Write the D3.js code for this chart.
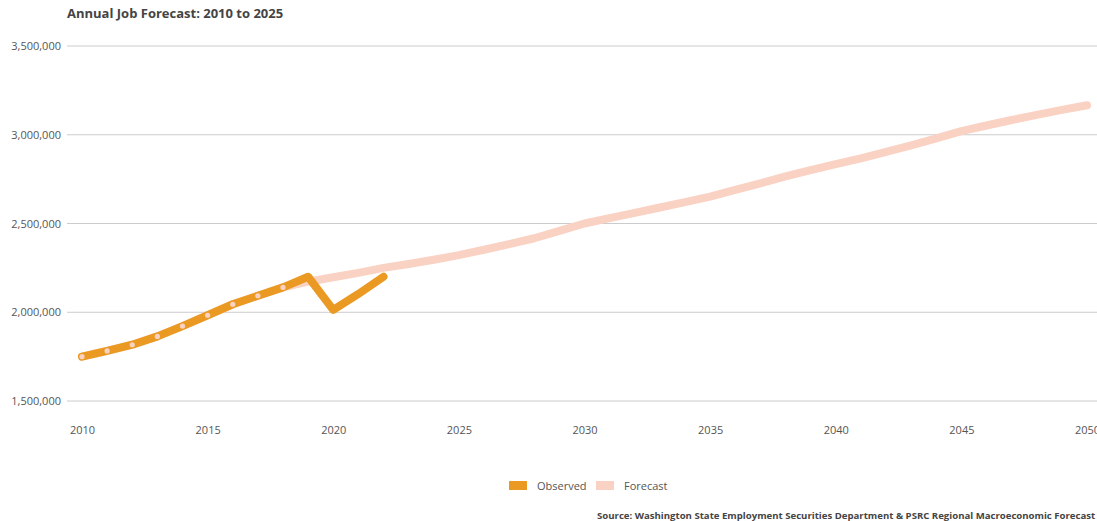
<!DOCTYPE html>
<html><head><meta charset="utf-8">
<script src="https://cdn.jsdelivr.net/npm/d3@7"></script>
<style>
html,body{margin:0;padding:0;background:#fff;overflow:hidden}
svg{display:block}
text{font-family:"Open Sans",sans-serif}
</style></head>
<body><svg id="chart" width="1097" height="521"></svg>
<script>
const title = "Annual Job Forecast: 2010 to 2025";
const source = "Source: Washington State Employment Securities Department & PSRC Regional Macroeconomic Forecast";
const observedYears = [2010,2011,2012,2013,2014,2015,2016,2017,2018,2019,2020,2021,2022];
const observedJobs = [1750000,1782000,1817000,1864000,1922000,1983000,2045000,2093000,2140000,2200000,2013000,2103000,2200000];
const forecastYears = [2010,2011,2012,2013,2014,2015,2016,2017,2018,2019,2020,2021,2022,2023,2024,2025,2026,2027,2028,2029,2030,2031,2032,2033,2034,2035,2036,2037,2038,2039,2040,2041,2042,2043,2044,2045,2046,2047,2048,2049,2050];
const forecastJobs = [1750000,1782000,1817000,1864000,1922000,1983000,2045000,2093000,2140000,2172000,2197000,2222000,2250000,2272000,2296000,2322000,2352000,2384000,2417000,2458000,2500000,2530000,2560000,2590000,2620000,2651000,2690000,2726000,2765000,2801000,2835000,2867000,2904000,2940000,2979000,3020000,3052000,3083000,3112000,3140000,3166000];
const markerYears = [2010,2011,2012,2013,2014,2015,2016,2017,2018];
const yTicks = [1500000,2000000,2500000,3000000,3500000];
const xTicks = [2010,2015,2020,2025,2030,2035,2040,2045,2050];
const seriesNames = ["Observed","Forecast"];
const colors = {Observed:"#EA9A22", Forecast:"#FAD2C3"};

const svg = d3.select("#chart");
const x = d3.scaleLinear().domain([2010,2050]).range([82,1087]);
const y = d3.scaleLinear().domain([1500000,3500000]).range([401,46]);

// gridlines
svg.append("g").selectAll("line").data(yTicks).join("line")
  .attr("x1",67).attr("x2",1097)
  .attr("y1",d=>y(d)).attr("y2",d=>y(d))
  .attr("stroke","#cccccc").attr("stroke-width",1);

// y axis labels
const yAxis = d3.axisLeft(y).tickValues(yTicks).tickSize(0).tickPadding(0).tickFormat(d3.format(","));
const yg = svg.append("g").attr("transform","translate(61,0)").call(yAxis);
yg.select(".domain").remove();
yg.selectAll("text").attr("font-size",11).attr("fill","#555").style("font-family","'Open Sans',sans-serif");

// x axis labels
const xAxis = d3.axisBottom(x).tickValues(xTicks).tickSize(0).tickPadding(0).tickFormat(d3.format("d"));
const xg = svg.append("g").attr("transform","translate(0,426)").call(xAxis);
xg.select(".domain").remove();
xg.selectAll("text").attr("font-size",11).attr("fill","#555").style("font-family","'Open Sans',sans-serif");

const line = d3.line().x(d=>x(d[0])).y(d=>y(d[1]));
const fData = forecastYears.map((yr,i)=>[yr,forecastJobs[i]]);
const oData = observedYears.map((yr,i)=>[yr,observedJobs[i]]);

svg.append("path").datum(fData).attr("d",line)
  .attr("fill","none").attr("stroke",colors.Forecast).attr("stroke-width",8)
  .attr("stroke-linecap","round").attr("stroke-linejoin","round");
svg.append("path").datum(oData).attr("d",line)
  .attr("fill","none").attr("stroke",colors.Observed).attr("stroke-width",8)
  .attr("stroke-linecap","round").attr("stroke-linejoin","round");

svg.append("g").selectAll("circle").data(fData.filter(d=>markerYears.includes(d[0]))).join("circle")
  .attr("cx",d=>x(d[0])).attr("cy",d=>y(d[1])).attr("r",2.6)
  .attr("fill",colors.Forecast);

// title
svg.append("text").attr("x",67).attr("y",18).text(title)
  .attr("font-size",13).attr("font-weight",700).attr("fill","#444");

// legend
const lg = svg.append("g");
const legendPos = [{name:"Observed",x:509},{name:"Forecast",x:596}];
legendPos.forEach(p=>{
  lg.append("rect").attr("x",p.x).attr("y",481).attr("width",18).attr("height",9).attr("fill",colors[p.name]);
  lg.append("text").attr("x",p.x+28).attr("y",490).text(p.name).attr("font-size",11).attr("fill","#555");
});

// source
svg.append("text").attr("x",597).attr("y",519).text(source)
  .attr("font-size",9.6).attr("font-weight",700).attr("fill","#444");
</script></body></html>
